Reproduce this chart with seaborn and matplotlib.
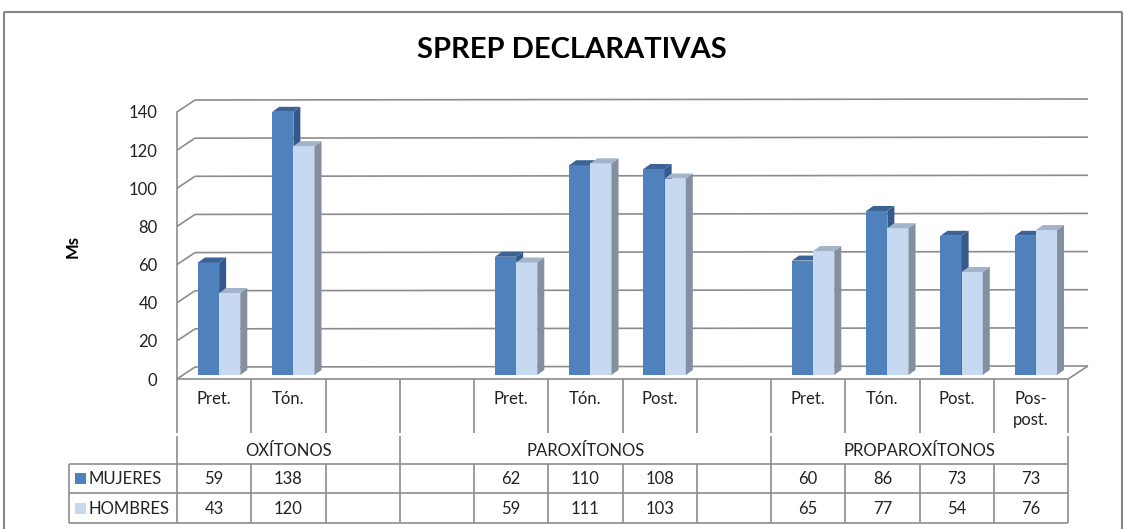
import numpy as np
import pandas as pd
import seaborn as sns
import matplotlib
matplotlib.use("Agg")
import matplotlib.pyplot as plt
import matplotlib.transforms as mtrans
from matplotlib.lines import Line2D
from matplotlib.patches import Polygon, Rectangle

# ---------------- data ----------------
categories = ['Pret.', 'Tón.', '', '', 'Pret.', 'Tón.', 'Post.', '', 'Pret.', 'Tón.', 'Post.', 'Pos-\npost.']
groups = ['OXÍTONOS', 'PAROXÍTONOS', 'PROPAROXÍTONOS']
group_sizes = [3, 5, 4]
series = ['MUJERES', 'HOMBRES']
mujeres = [59, 138, np.nan, np.nan, 62, 110, 108, np.nan, 60, 86, 73, 73]
hombres = [43, 120, np.nan, np.nan, 59, 111, 103, np.nan, 65, 77, 54, 76]
yticks = [0, 20, 40, 60, 80, 100, 120, 140]
title = 'SPREP DECLARATIVAS'
ylabel = 'Ms'

# ---------------- style ----------------
sns.set_theme(style='white')
plt.rcParams['font.family'] = ['Lato', 'DejaVu Sans']

W, H = 1126, 529
DARK, LIGHT = '#4F81BD', '#C6D9F1'
DARK_SIDE, DARK_TOP = '#34598A', '#3B6396'
LIGHT_SIDE, LIGHT_TOP = '#848FA0', '#A3B3CA'
GRID = '#8C8C8C'
TXT = '#222222'

fig = plt.figure(figsize=(W / 100, H / 100), dpi=100)
fig.patch.set_facecolor('white')

def Y(y):
    return H - y

ax = fig.add_axes([177 / W, Y(379) / H, (1068 - 177) / W, (379 - 112) / H])

slots = [f's{i}' for i in range(len(categories))]
df = pd.DataFrame({
    'slot': slots * 2,
    'serie': [series[0]] * len(slots) + [series[1]] * len(slots),
    'ms': mujeres + hombres,
}).dropna()

sns.barplot(data=df, x='slot', y='ms', hue='serie', order=slots, hue_order=series,
            palette=[DARK, LIGHT], width=0.57, saturation=1, errorbar=None,
            legend=False, ax=ax, linewidth=0)

ax.set_xlim(-0.5, len(slots) - 0.5)
ax.set_ylim(0, 140)
ax.set_yticks(yticks)
ax.set_xticks([])
ax.set_xlabel('')
ax.set_ylabel('')
ax.patch.set_alpha(0)
for s in ['top', 'right']:
    ax.spines[s].set_visible(False)
for s in ['left', 'bottom']:
    ax.spines[s].set_color(GRID)
    ax.spines[s].set_linewidth(1.2)
    ax.spines[s].set_zorder(6)
ax.tick_params(axis='y', length=0, pad=14, labelsize=12, labelcolor=TXT)

ident = mtrans.IdentityTransform()

def aline(p0, p1, lw=1.2, color=GRID, z=0.5):
    ax.add_line(Line2D([p0[0], p1[0]], [p0[1], p1[1]], transform=ident,
                       color=color, lw=lw, zorder=z, solid_capstyle='butt', clip_on=False))

def dline(p0, p1, lw=1.2, color=GRID, z=1):
    fig.add_artist(Line2D([p0[0], p1[0]], [p0[1], p1[1]], transform=ident,
                          color=color, lw=lw, zorder=z, solid_capstyle='butt'))

# ---------------- back wall gridlines / floor ----------------
BL = np.array([18, 12])
BR = np.array([20, 13])
x_left, x_right = -0.5, len(slots) - 0.5
for v in yticks:
    p = ax.transData.transform((x_left, v))
    q = p + BL
    r = ax.transData.transform((x_right, v)) + BR
    aline(q, r)
    aline(p, q)
p0 = ax.transData.transform((x_right, 0))
aline(p0, p0 + BR)

# ---------------- 3D bars ----------------
shift = mtrans.Affine2D().translate(5, 4)
DX, DY = 7, 5
for ci, cont in enumerate(ax.containers):
    side_c = DARK_SIDE if ci == 0 else LIGHT_SIDE
    top_c = DARK_TOP if ci == 0 else LIGHT_TOP
    zf = 3 + ci
    for bar in cont:
        h = bar.get_height()
        if not np.isfinite(h):
            continue
        bar.set_transform(ax.transData + shift)
        bar.set_zorder(zf)
        bar.set_clip_on(False)
        x0, x1 = bar.get_x(), bar.get_x() + bar.get_width()
        (dx0, dy0) = (ax.transData + shift).transform((x0, 0))
        (dx1, dy1) = (ax.transData + shift).transform((x1, h))
        side = Polygon([(dx1, dy0), (dx1 + DX, dy0 + DY), (dx1 + DX, dy1 + DY), (dx1, dy1)],
                       closed=True, facecolor=side_c, edgecolor='none', transform=ident,
                       zorder=zf + 0.1, clip_on=False)
        top = Polygon([(dx0, dy1), (dx1, dy1), (dx1 + DX, dy1 + DY), (dx0 + DX, dy1 + DY)],
                      closed=True, facecolor=top_c, edgecolor='none', transform=ident,
                      zorder=zf + 0.1, clip_on=False)
        ax.add_patch(side)
        ax.add_patch(top)

# ---------------- data table ----------------
bx = [ax.transData.transform((i - 0.5, 0))[0] for i in range(len(slots) + 1)]
cx = [(bx[i] + bx[i + 1]) / 2 for i in range(len(slots))]
T_LEFT = 69
Y_CAT_TOP, Y_CAT_BOT, Y_GRP_TOP = 379, 433, 436
Y_R1, Y_R2, Y_R3 = 464, 493, 523

for b in bx:
    dline((b, Y(Y_CAT_TOP)), (b, Y(Y_CAT_BOT)))
    dline((b, Y(Y_R1)), (b, Y(Y_R3)))
gb = [0]
for g in group_sizes:
    gb.append(gb[-1] + g)
for k in gb:
    dline((bx[k], Y(Y_GRP_TOP)), (bx[k], Y(Y_R1)))
dline((T_LEFT, Y(Y_R1)), (T_LEFT, Y(Y_R3)))
for yy in (Y_R1, Y_R2, Y_R3):
    dline((T_LEFT, Y(yy)), (bx[-1], Y(yy)))

fs = 12
for i, lab in enumerate(categories):
    if lab:
        fig.text(cx[i] / W, Y(391) / H, lab, ha='center', va='top', fontsize=fs,
                 color=TXT, linespacing=1.4)
for gi, g in enumerate(groups):
    xc = (bx[gb[gi]] + bx[gb[gi + 1]]) / 2
    fig.text(xc / W, Y(451) / H, g, ha='center', va='center', fontsize=fs, color=TXT)

row_y = [478.5, 508.5]
for si, (name, vals, col) in enumerate(zip(series, [mujeres, hombres], [DARK, LIGHT])):
    yc = row_y[si]
    fig.add_artist(Rectangle((75, Y(yc) - 5.5), 11, 11, transform=ident,
                             facecolor=col, edgecolor='none'))
    fig.text(89 / W, Y(yc) / H, name, ha='left', va='center', fontsize=fs, color=TXT)
    for i, v in enumerate(vals):
        if np.isfinite(v):
            fig.text(cx[i] / W, Y(yc) / H, f'{int(v)}', ha='center', va='center',
                     fontsize=fs, color=TXT)

# ---------------- title, y label, frame ----------------
fig.text(572 / W, Y(50) / H, title, ha='center', va='center', fontsize=21,
         fontweight='bold', color='black', family=['Lato', 'DejaVu Sans'])
fig.text(73 / W, Y(247) / H, ylabel, ha='center', va='center', rotation=90,
         fontsize=12, fontweight='bold', color='black')

FR = '#858585'
dline((4, Y(12)), (1122, Y(12)), lw=1.5, color=FR)
dline((4, Y(12)), (4, 0), lw=1.5, color=FR)
dline((1122, Y(12)), (1122, 0), lw=1.5, color=FR)

fig.savefig('out.png', dpi=100, facecolor='white')
